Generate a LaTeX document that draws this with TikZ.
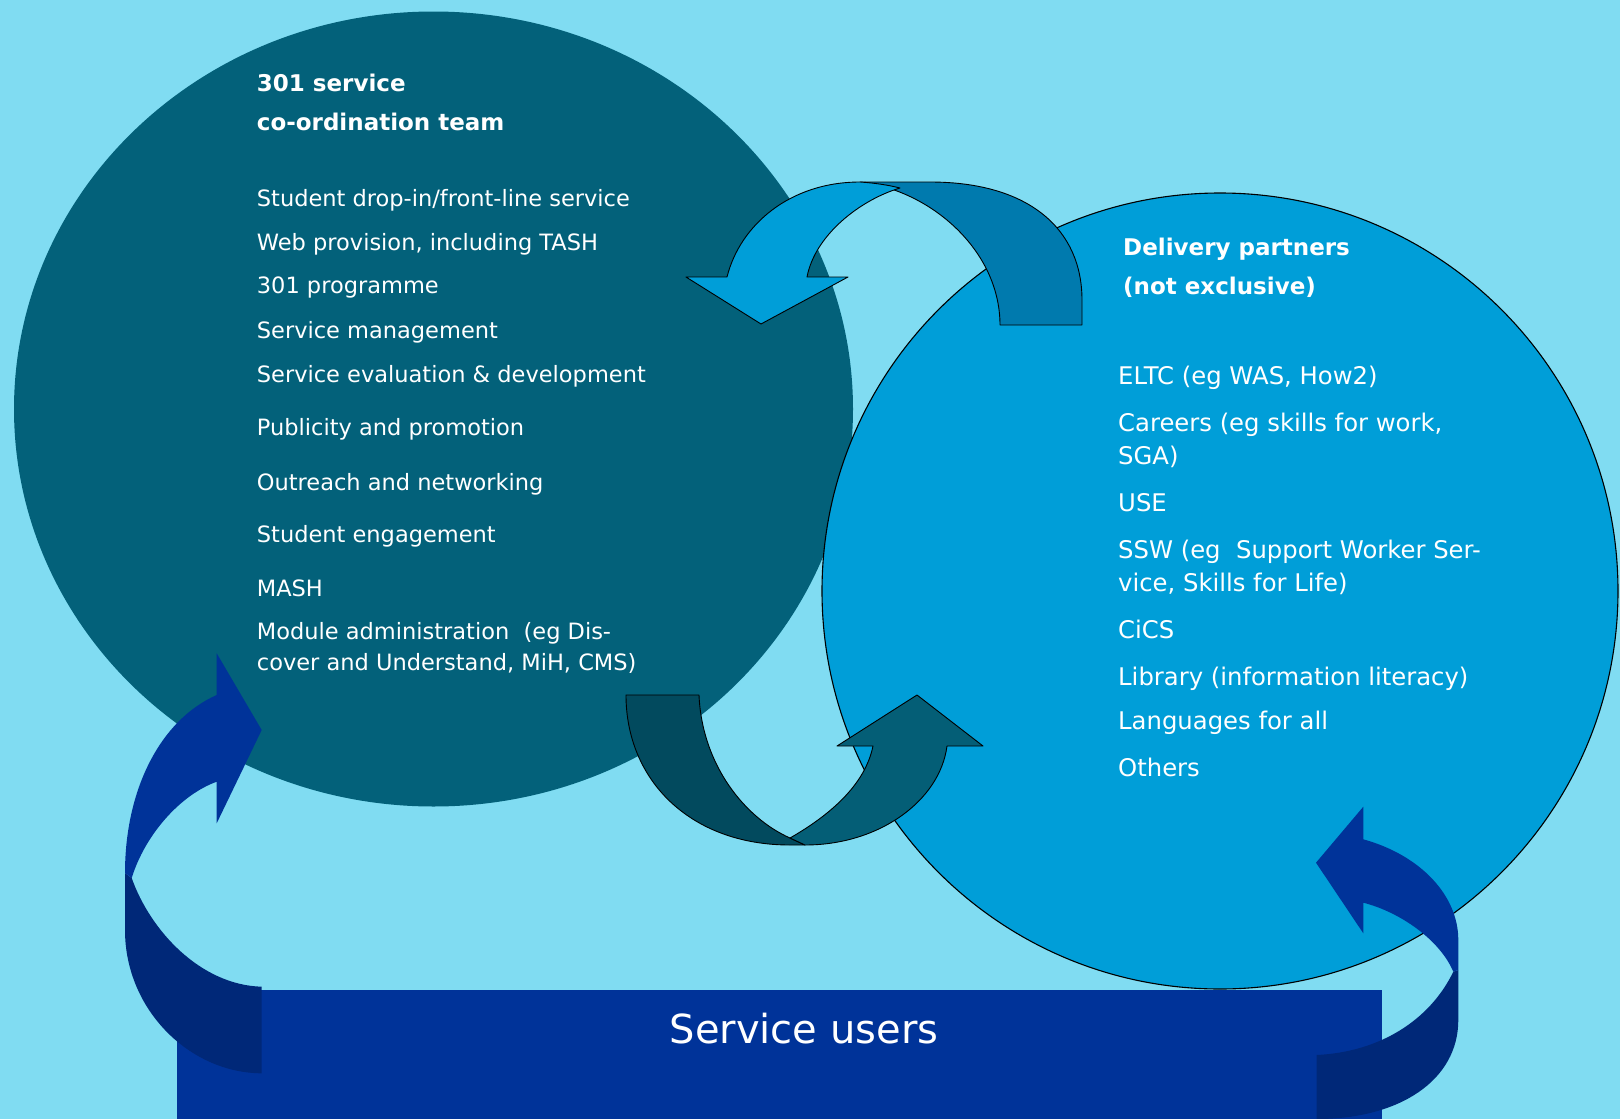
\documentclass[tikz,border=0pt]{standalone}
\usepackage{fontspec}
\setmainfont{DejaVu Sans}
\definecolor{skyback}{RGB}{128,220,242}
\definecolor{teamteal}{RGB}{3,97,122}
\definecolor{partnerblue}{RGB}{0,158,216}
\definecolor{userblue}{RGB}{0,51,153}
\definecolor{userdeep}{RGB}{0,40,120}
\definecolor{loopback}{RGB}{0,122,174}
\definecolor{tealback}{RGB}{2,74,94}
\definecolor{tealfront}{RGB}{4,94,118}
\begin{document}
\begin{tikzpicture}[x=1pt,y=-1pt,
  itemtext/.style={anchor=base west, text=white, inner sep=0pt,
    font=\fontsize{22.5}{27}\selectfont},
  headtext/.style={itemtext, font=\fontsize{23}{28}\selectfont\bfseries},
  partnertext/.style={itemtext, font=\fontsize{24.3}{29}\selectfont},
  ribbon/.style={draw=black, line width=0.9pt, line join=round},
]
% canvas
\fill[skyback] (0,0) rectangle (1620,1119);
\useasboundingbox (0,0) rectangle (1620,1119);

% the two groups
\fill[teamteal] (433.5,409) ellipse [x radius=419.5, y radius=397.5];
\filldraw[fill=partnerblue, draw=black, line width=1.1pt] (1220,591) circle [radius=398];

% upper U-turn arrow: back of the ribbon
\path[ribbon, fill=loopback]
  (1082,325) -- (1082,300) .. controls (1082,230) and (1030,182) .. (930,182)
  -- (860,182) .. controls (930,190) and (1000,250) .. (1000,325) -- cycle;
% upper U-turn arrow: front of the ribbon with its head
\path[ribbon, fill=partnerblue]
  (727,277) .. controls (740,225) and (790,182) .. (860,182)
  .. controls (875,183) and (888,185) .. (900,188)
  .. controls (860,200) and (815,235) .. (807,277)
  -- (848,277) -- (761,324) -- (686,277) -- cycle;

% lower U-turn arrow: back of the ribbon
\path[ribbon, fill=tealback]
  (626,695) -- (699,695) .. controls (702,765) and (745,818) .. (790,838)
  -- (805,845) -- (790,845) .. controls (690,845) and (626,780) .. (626,695) -- cycle;
% lower U-turn arrow: front of the ribbon with its head
\path[ribbon, fill=tealfront]
  (790,838) -- (805,845) .. controls (880,845) and (940,800) .. (947,746)
  -- (983,746) -- (917,695) -- (837,746) -- (873,746)
  .. controls (865,785) and (830,815) .. (790,838) -- cycle;

% service users bar
\node[fill=userblue, minimum width=1205, minimum height=129, inner sep=0pt,
      anchor=north west] (users) at (176.7,990) {};
\node[text=white, font=\fontsize{40}{48}\selectfont, anchor=base] (userslabel)
  at (804,1043) {Service users};

% left return arrow
\fill[userdeep]
  (125,873) -- (125,930) .. controls (125,1010) and (190,1073) .. (261.7,1073.3)
  -- (261.7,986.7) .. controls (200,985) and (150,930) .. (131.7,878) -- cycle;
\fill[userblue]
  (125,873) .. controls (125,790) and (160,720) .. (216.7,695)
  -- (216.7,653.3) -- (261.7,730) -- (216.7,823.3) -- (216.7,781.7)
  .. controls (180,795) and (145,835) .. (131.7,878) -- cycle;

% right return arrow
\fill[userdeep]
  (1458.3,970) -- (1458.3,1020) .. controls (1458.3,1080) and (1400,1119) .. (1316.7,1119)
  -- (1316.7,1055) .. controls (1380,1052) and (1430,1020) .. (1453.3,971.7) -- cycle;
\fill[userblue]
  (1458.3,970) -- (1458.3,940) .. controls (1458.3,895) and (1420,855) .. (1363.3,839.3)
  -- (1363.3,806.7) -- (1316,862.7) -- (1363.3,933.3) -- (1363.3,902.7)
  .. controls (1400,912) and (1440,940) .. (1453.3,971.7) -- cycle;

% co-ordination team
\node[headtext] (t1) at (256.7,91.7) {301 service};
\node[headtext] (t2) at (256.7,130.7) {co-ordination team};
\node[itemtext] (a1) at (256.7,206.7) {Student drop-in/front-line service};
\node[itemtext] (a2) at (256.7,250) {Web provision, including TASH};
\node[itemtext] (a3) at (256.7,293.3) {301 programme};
\node[itemtext] (a4) at (256.7,338.5) {Service management};
\node[itemtext] (a5) at (256.7,382.4) {Service evaluation \& development};
\node[itemtext] (a6) at (256.7,435) {Publicity and promotion};
\node[itemtext] (a7) at (256.7,490) {Outreach and networking};
\node[itemtext] (a8) at (256.7,542.4) {Student engagement};
\node[itemtext] (a9) at (256.7,596.4) {MASH};
\node[itemtext] (a10) at (256.7,639.4) {Module administration\ \ (eg Dis-};
\node[itemtext] (a11) at (256.7,670.4) {cover and Understand, MiH, CMS)};

% delivery partners
\node[headtext] (p1) at (1123,255) {Delivery partners};
\node[headtext] (p2) at (1123,294) {(not exclusive)};
\node[partnertext] (b1) at (1118,384) {ELTC (eg WAS, How2)};
\node[partnertext] (b2) at (1118,431.6) {Careers (eg skills for work,};
\node[partnertext] (b3) at (1118,464) {SGA)};
\node[partnertext] (b4) at (1118,511) {USE};
\node[partnertext] (b5) at (1118,558.5) {SSW (eg\ \ Support Worker Ser-};
\node[partnertext] (b6) at (1118,591) {vice, Skills for Life)};
\node[partnertext] (b7) at (1118,638) {CiCS};
\node[partnertext] (b8) at (1118,685.5) {Library (information literacy)};
\node[partnertext] (b9) at (1118,729) {Languages for all};
\node[partnertext] (b10) at (1118,776) {Others};
\end{tikzpicture}
\end{document}
